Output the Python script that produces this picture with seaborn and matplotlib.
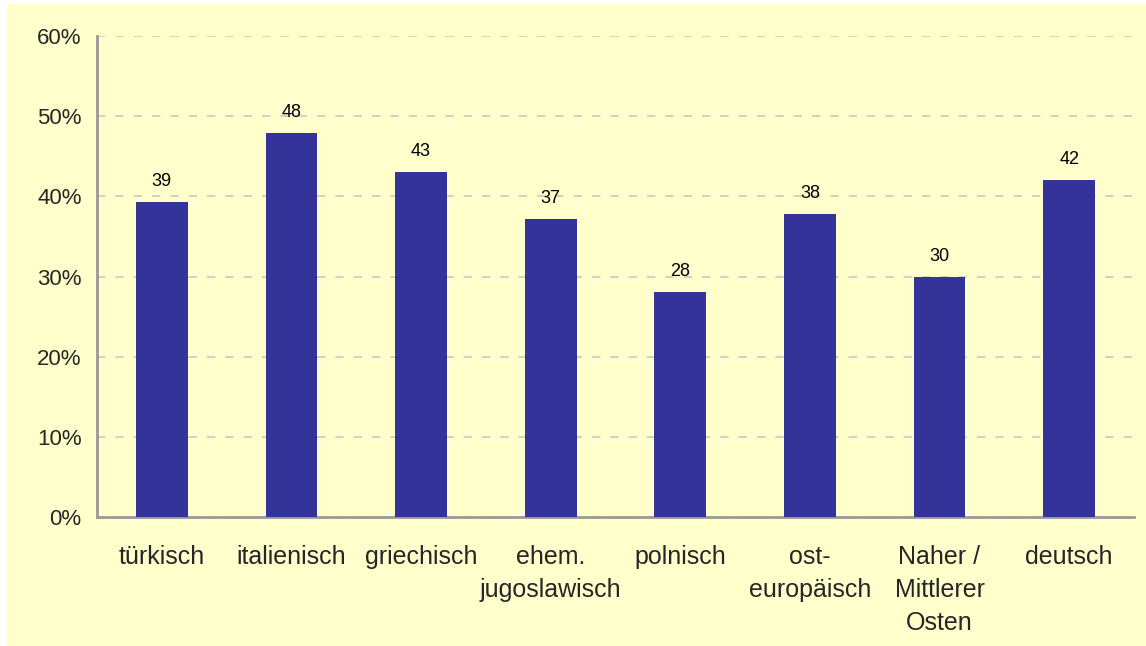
import matplotlib
matplotlib.use("Agg")
import matplotlib.pyplot as plt
import seaborn as sns
import pandas as pd
from matplotlib.patches import Rectangle
from matplotlib.ticker import PercentFormatter, FixedLocator

# data
categories = ["türkisch", "italienisch", "griechisch", "ehem.\njugoslawisch",
              "polnisch", "ost-\neuropäisch", "Naher /\nMittlerer\nOsten", "deutsch"]
values = [39.3, 47.9, 43.0, 37.2, 28.1, 37.8, 29.9, 42.0]
value_labels = ["39", "48", "43", "37", "28", "38", "30", "42"]
y_ticks = [0, 10, 20, 30, 40, 50, 60]

df = pd.DataFrame({"kategorie": categories, "anteil": values})

sns.set_style("white")
plt.rcParams["font.family"] = ["Liberation Sans", "DejaVu Sans"]

bg = "#FFFFCC"
axis_grey = "#999999"

fig = plt.figure(figsize=(11.46, 6.46), dpi=100)
fig.patch.set_facecolor("white")
fig.patches.append(Rectangle((7 / 1146, 0), 1, 1 - 4 / 646, transform=fig.transFigure,
                             facecolor=bg, edgecolor="none", zorder=-10))

ax = fig.add_axes([97 / 1146, 1 - 517 / 646, (1134 - 97) / 1146, (517 - 36) / 646])
ax.set_facecolor(bg)

sns.barplot(data=df, x="kategorie", y="anteil", color="#333399", width=0.4,
            saturation=1, linewidth=0, ax=ax, zorder=3)

for i, (v, lab) in enumerate(zip(values, value_labels)):
    ax.text(i, v + 1.5, lab, ha="center", va="bottom", fontsize=13, color="black", zorder=4)

ax.set_xlim(-0.5, len(categories) - 0.5)
ax.set_ylim(0, 60)
ax.set_yticks(y_ticks)
ax.yaxis.set_major_formatter(PercentFormatter(decimals=0))
ax.yaxis.grid(True, linestyle=(0, (5, 6)), color="#C8C8C8", linewidth=1.2, zorder=0)
ax.set_axisbelow(True)

# x ticks at category boundaries, labels centred under the bars
ax.xaxis.set_major_locator(FixedLocator([i - 0.5 for i in range(len(categories) + 1)]))
ax.xaxis.set_minor_locator(FixedLocator(range(len(categories))))
ax.set_xticklabels([""] * (len(categories) + 1))
ax.set_xticklabels(categories, minor=True, fontsize=18, linespacing=1.47)
ax.tick_params(axis="x", which="major", length=8, width=2, color=axis_grey, direction="out")
ax.tick_params(axis="x", which="minor", length=0, pad=20)
ax.tick_params(axis="y", length=7, width=2, color=axis_grey, direction="out",
               labelsize=16, pad=4)
ax.set_xlabel("")
ax.set_ylabel("")

for side in ["top", "right"]:
    ax.spines[side].set_visible(False)
for side in ["left", "bottom"]:
    ax.spines[side].set_color(axis_grey)
    ax.spines[side].set_linewidth(2)

fig.savefig("out.png", dpi=100, facecolor=fig.get_facecolor())
